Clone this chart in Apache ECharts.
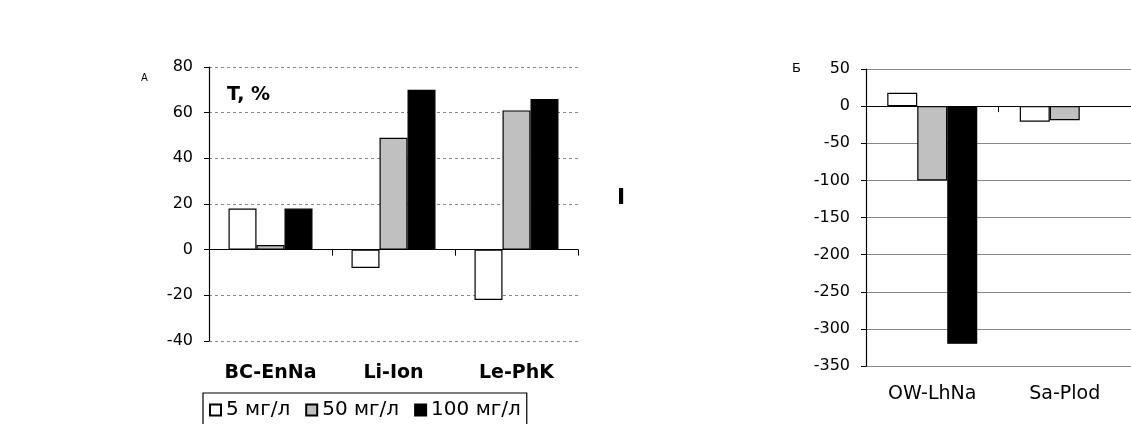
<!DOCTYPE html>
<html><head><meta charset="utf-8">
<script src="https://cdn.jsdelivr.net/npm/echarts@6/dist/echarts.min.js"></script>
<style>html,body{margin:0;padding:0;background:#fff}#c{width:1131px;height:424px}</style>
</head><body><div id="c"></div>
<script>
const catsA = ['BC-EnNa', 'Li-Ion', 'Le-PhK'];
const catsB = ['OW-LhNa', 'Sa-Plod'];
const seriesNames = ['5 мг/л', '50 мг/л', '100 мг/л'];
const valsA5 = [18, -8, -22];
const valsA50 = [2, 49, 61];
const valsA100 = [18, 70, 66];
const valsB5 = [18, -21];
const valsB50 = [-100, -19];
const valsB100 = [-320, null];
const ticksA = { min: -40, max: 80, interval: 20 };
const ticksB = { min: -350, max: 50, interval: 50 };

const fills = ['#ffffff', '#c0c0c0', '#000000'];
const font = 'DejaVu Sans';
const chart = echarts.init(document.getElementById('c'), null, { renderer: 'canvas' });

function bar(name, data, i, xi, yi, w) {
  return {
    name, type: 'bar', data, xAxisIndex: xi, yAxisIndex: yi,
    barWidth: w, barGap: '0%',
    itemStyle: { color: fills[i], borderColor: '#000', borderWidth: 1.2 },
    animation: false
  };
}

chart.setOption({
  animation: false,
  textStyle: { fontFamily: font },
  grid: [
    { left: 209, top: 67, width: 369, height: 274 },
    { left: 866, top: 69, width: 272, height: 297 }
  ],
  xAxis: [
    { gridIndex: 0, type: 'category', data: catsA, position: 'bottom',
      axisLine: { show: false, onZero: false }, axisTick: { show: false },
      axisLabel: { margin: 23, fontFamily: font, fontSize: 19, fontWeight: 'bold', color: '#000' } },
    { gridIndex: 0, type: 'category', data: catsA, position: 'bottom',
      axisLine: { show: true, onZero: true, lineStyle: { color: '#000', width: 1.2 } },
      axisTick: { show: true, length: 6, lineStyle: { color: '#000' } },
      axisLabel: { show: false } },
    { gridIndex: 1, type: 'category', data: catsB, position: 'bottom',
      axisLine: { show: false, onZero: false }, axisTick: { show: false },
      axisLabel: { margin: 19, fontFamily: font, fontSize: 19, color: '#000' } },
    { gridIndex: 1, type: 'category', data: catsB, position: 'bottom',
      axisLine: { show: true, onZero: true, lineStyle: { color: '#000', width: 1.2 } },
      axisTick: { show: true, length: 6, lineStyle: { color: '#000' } },
      axisLabel: { show: false } }
  ],
  yAxis: [
    { gridIndex: 0, type: 'value', min: ticksA.min, max: ticksA.max, interval: ticksA.interval,
      axisLine: { show: true, lineStyle: { color: '#000', width: 1.2 } },
      axisTick: { show: true, length: 5, lineStyle: { color: '#000' } },
      axisLabel: { margin: 16, fontFamily: font, fontSize: 16, color: '#000' },
      splitLine: { show: true, lineStyle: { color: '#888', type: [3, 3], width: 1 } } },
    { gridIndex: 1, type: 'value', min: ticksB.min, max: ticksB.max, interval: ticksB.interval,
      axisLine: { show: true, lineStyle: { color: '#000', width: 1.2 } },
      axisTick: { show: true, length: 5, lineStyle: { color: '#000' } },
      axisLabel: { margin: 16, fontFamily: font, fontSize: 16, color: '#000' },
      splitLine: { show: true, lineStyle: { color: '#888', width: 1 } } }
  ],
  legend: {
    data: seriesNames.map(n => ({ name: n, icon: 'rect' })),
    left: 203, top: 393, orient: 'horizontal',
    padding: [7, 6, 7, 6], itemGap: 15, itemWidth: 11, itemHeight: 11,
    borderColor: '#000', borderWidth: 1.2,
    textStyle: { fontFamily: font, fontSize: 20, color: '#000', padding: [0, 0, 0, 0] },
    selectedMode: false
  },
  series: [
    bar(seriesNames[0], valsA5, 0, 0, 0, 28),
    bar(seriesNames[1], valsA50, 1, 0, 0, 28),
    bar(seriesNames[2], valsA100, 2, 0, 0, 28),
    bar(seriesNames[0], valsB5, 0, 2, 1, 30),
    bar(seriesNames[1], valsB50, 1, 2, 1, 30),
    bar(seriesNames[2], valsB100, 2, 2, 1, 30)
  ],
  graphic: [
    { type: 'text', left: 227, top: 86, style: { text: 'T, %', font: 'bold 19px "DejaVu Sans"', fill: '#000' } },
    { type: 'text', left: 141, top: 73, style: { text: 'А', font: '10px "DejaVu Sans"', fill: '#000' } },
    { type: 'text', left: 792, top: 62, style: { text: 'Б', font: '13px "DejaVu Sans"', fill: '#000' } },
    { type: 'text', left: 617, top: 187, style: { text: 'I', font: 'bold 22px "DejaVu Sans"', fill: '#000' } }
  ]
});
</script></body></html>
